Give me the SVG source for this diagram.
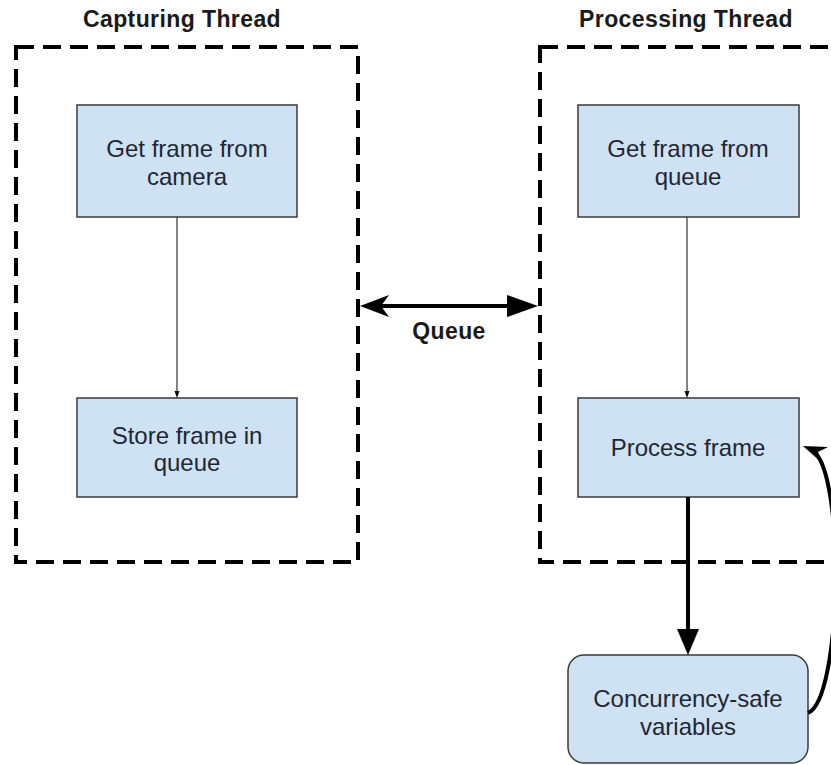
<svg xmlns="http://www.w3.org/2000/svg" width="831" height="765" viewBox="0 0 831 765">
  <style>
    .title { font-family: "Liberation Sans", Arial, sans-serif; font-weight: bold; font-size: 23px; letter-spacing: 0.4px; fill: #1a1a1a; text-anchor: middle; }
    .lbl { font-family: "Liberation Sans", Arial, sans-serif; font-size: 24px; fill: #1f2733; text-anchor: middle; }
    .thread { fill: none; stroke: #000; stroke-width: 4; stroke-dasharray: 18 9; }
    .box { fill: #cfe2f3; stroke: #3a3a3a; stroke-width: 1.5; }
    .thin { fill: none; stroke: #333; stroke-width: 1.2; }
    .thick { fill: none; stroke: #000; stroke-width: 4; }
    .head { fill: #000; stroke: none; }
  </style>
  <rect width="831" height="765" fill="#fff"/>

  <!-- thread containers -->
  <g id="capturing-thread">
    <text class="title" x="182" y="27">Capturing Thread</text>
    <rect class="thread" x="16" y="47" width="342" height="515"/>
  </g>
  <g id="processing-thread">
    <text class="title" x="686" y="27">Processing Thread</text>
    <rect class="thread" x="540" y="47" width="330" height="515"/>
  </g>

  <!-- nodes -->
  <g id="get-camera">
    <rect class="box" x="77" y="105" width="220" height="112"/>
    <text class="lbl" x="187" y="157">Get frame from</text>
    <text class="lbl" x="187" y="185">camera</text>
  </g>
  <g id="store-queue">
    <rect class="box" x="77" y="398" width="220" height="99"/>
    <text class="lbl" x="187" y="444">Store frame in</text>
    <text class="lbl" x="187" y="471">queue</text>
  </g>
  <g id="get-queue">
    <rect class="box" x="578" y="105" width="221" height="112"/>
    <text class="lbl" x="688" y="157">Get frame from</text>
    <text class="lbl" x="688" y="185">queue</text>
  </g>
  <g id="process-frame">
    <rect class="box" x="578" y="398" width="221" height="99"/>
    <text class="lbl" x="688" y="456">Process frame</text>
  </g>
  <g id="shared-vars">
    <rect class="box" x="568" y="655" width="240" height="108" rx="16"/>
    <text class="lbl" x="688" y="707">Concurrency-safe</text>
    <text class="lbl" x="688" y="735">variables</text>
  </g>

  <!-- connectors -->
  <g id="connectors">
    <line class="thin" x1="177" y1="217" x2="177" y2="393"/>
    <path class="head" d="M177,398 L174.5,391 L179.5,391 Z"/>
    <line class="thin" x1="687" y1="217" x2="687" y2="393"/>
    <path class="head" d="M687,398 L684.5,391 L689.5,391 Z"/>

    <!-- queue link -->
    <line class="thick" x1="368" y1="306" x2="510" y2="306"/>
    <path class="head" d="M360,306 L389,295 L381,306 L389,317 Z"/>
    <path class="head" d="M538,306 L507,295 L507,317 Z"/>
    <text class="title" x="449" y="339">Queue</text>

    <!-- process frame to shared variables -->
    <line class="thick" x1="688" y1="497" x2="688" y2="632"/>
    <path class="head" d="M688,655 L677,629 L699,629 Z"/>

    <!-- feedback from shared variables -->
    <path class="thick" d="M808,713 C842,700 846,470 812,450" stroke-width="3"/>
    <path class="head" d="M803,446 L828,447 L818,452 L821,462 Z"/>
  </g>
</svg>
